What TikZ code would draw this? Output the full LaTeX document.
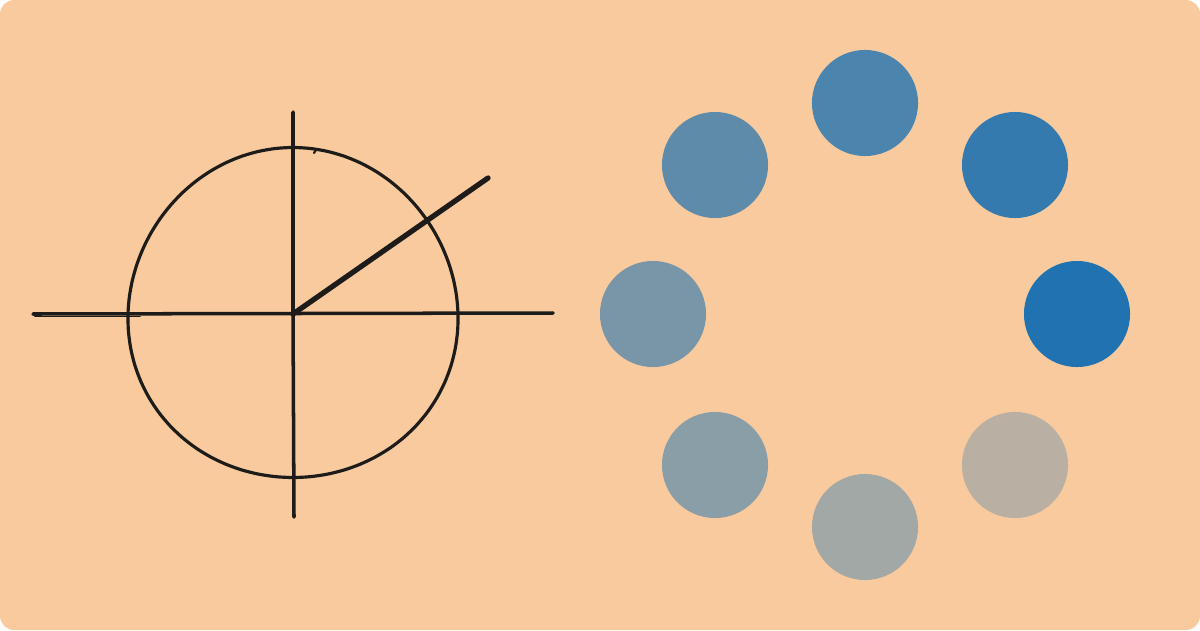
\documentclass[tikz,border=0pt]{standalone}
\usepackage{tikz}
\usetikzlibrary{calc,positioning}

\definecolor{peach}{HTML}{F8CA9D}
\definecolor{ink}{HTML}{1E1C1A}
\definecolor{dotA}{HTML}{2172B0}
\definecolor{dotB}{HTML}{357AAE}
\definecolor{dotC}{HTML}{4B84AC}
\definecolor{dotD}{HTML}{5F8BAA}
\definecolor{dotE}{HTML}{7896A8}
\definecolor{dotF}{HTML}{8A9EA8}
\definecolor{dotG}{HTML}{A2A8A5}
\definecolor{dotH}{HTML}{B9B0A3}

\tikzset{
  sketch/.style={draw=ink,line width=1pt,line cap=round,line join=round},
  dot/.style={circle,minimum size=1.06cm,inner sep=0pt}
}

\begin{document}
\begin{tikzpicture}[x=0.01cm,y=-0.01cm]
  \fill[peach,rounded corners=4pt] (0,0) rectangle (1200,630);
  \useasboundingbox (0,0) rectangle (1200,630);

  % unit circle, drawn by hand
  \coordinate (o) at (293,314);
  \draw[sketch,line width=0.9pt] plot[smooth cycle,domain=0:354,samples=60]
    ({293+(165+1.5*sin(3*\x))*cos(\x)},{314+(165+1.5*sin(3*\x))*sin(\x)});
  \draw[sketch,line width=0.6pt] (314,153) -- (316,150);

  % axes
  \coordinate (xl) at (33,314);
  \coordinate (xr) at (553,313);
  \coordinate (yt) at (293,112);
  \coordinate (yb) at (294,517);
  \draw[sketch] (xl) -- (xr);
  \draw[sketch,line width=0.5pt] (35,316.5) -- (140,316.5);
  \draw[sketch] (yt) -- (o) -- (yb);

  % radius
  \coordinate (r) at (488,178);
  \draw[sketch,line width=1.5pt] (o) -- (r);

  % loading dots
  \foreach \n/\x/\y/\c in {1/1077/314/dotA, 2/1015/165/dotB, 3/865/103/dotC, 4/715/165/dotD,
                           5/653/314/dotE, 6/715/465/dotF, 7/865/527/dotG, 8/1015/465/dotH} {
    \node[dot,fill=\c] (dot\n) at (\x,\y) {};
  }
\end{tikzpicture}
\end{document}
